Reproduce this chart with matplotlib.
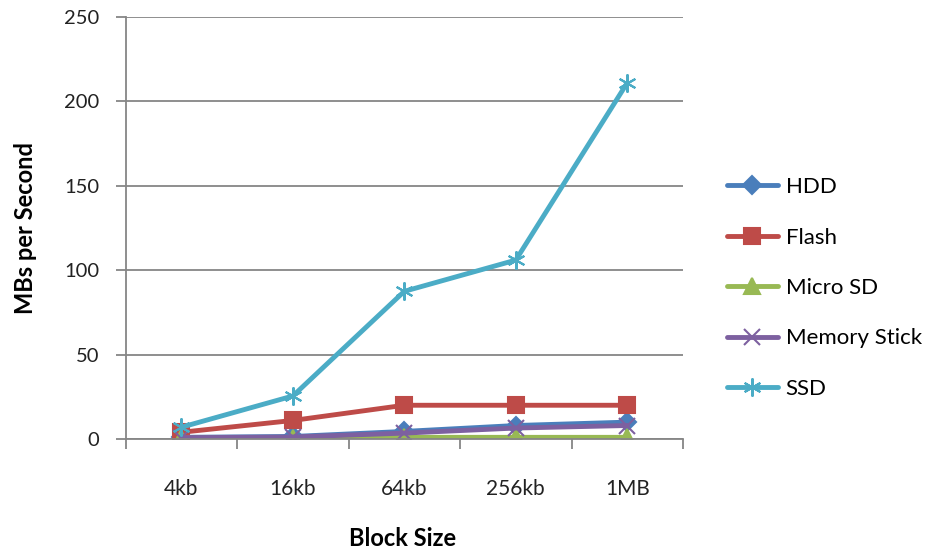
import matplotlib.pyplot as plt
import numpy as np

plt.rcParams['font.family'] = ['Lato', 'DejaVu Sans']

block_sizes = ['4kb', '16kb', '64kb', '256kb', '1MB']
hdd = [1, 1.5, 4.5, 8, 10]
flash = [4, 11, 20, 20, 20]
micro_sd = [0.5, 0.8, 1, 1, 1]
memory_stick = [0.8, 1.2, 3.5, 6.5, 8]
ssd = [7, 25.5, 87.5, 106, 211]

series = [
    ('HDD', hdd, '#4A7EBB', 'D', 9),
    ('Flash', flash, '#BE4B48', 's', 12),
    ('Micro SD', micro_sd, '#98B954', '^', 12),
    ('Memory Stick', memory_stick, '#7D60A0', 'x', 11),
    ('SSD', ssd, '#4BACC6', (6, 2, 0), 13),
]

fig = plt.figure(figsize=(9.47, 5.56), dpi=100)
ax = fig.add_axes([0.1327, 0.2104, 0.5885, 0.759])

x = np.arange(len(block_sizes))
for name, vals, col, mk, ms in series:
    ax.plot(x, vals, color=col, lw=3.5, marker=mk, markersize=ms,
            markeredgecolor=col, markeredgewidth=1.5, label=name,
            solid_capstyle='round')

grid_col = '#868686'
ax.set_ylim(0, 250)
ax.set_yticks(range(0, 251, 50))
ax.grid(axis='y', color=grid_col, lw=1.3)
ax.set_axisbelow(True)

ax.set_xlim(-0.5, len(block_sizes) - 0.5)
ax.set_xticks(x)
ax.set_xticklabels(block_sizes)
ax.set_xticks(np.arange(-0.5, len(block_sizes)), minor=True)
ax.tick_params(axis='x', which='major', length=0, pad=29, labelsize=15, colors='#222222')
ax.tick_params(axis='x', which='minor', length=7, width=1.3, color=grid_col)
ax.tick_params(axis='y', length=7, width=1.3, color=grid_col, pad=12, labelsize=14.5,
               labelcolor='#222222')

for s in ['top', 'right']:
    ax.spines[s].set_visible(False)
for s in ['left', 'bottom']:
    ax.spines[s].set_color(grid_col)
    ax.spines[s].set_linewidth(1.3)

fig.text(0.027, 0.59, 'MBs per Second', rotation=90, ha='center', va='center',
         fontsize=17, fontweight='bold')
fig.text(0.425, 0.032, 'Block Size', ha='center', va='center',
         fontsize=17, fontweight='bold')

fig.legend(loc='center left', bbox_to_anchor=(0.758, 0.482), frameon=False,
           fontsize=16, handlelength=2.3, handletextpad=0.35, labelspacing=1.37,
           borderaxespad=0)

fig.savefig('out.png', dpi=100)
